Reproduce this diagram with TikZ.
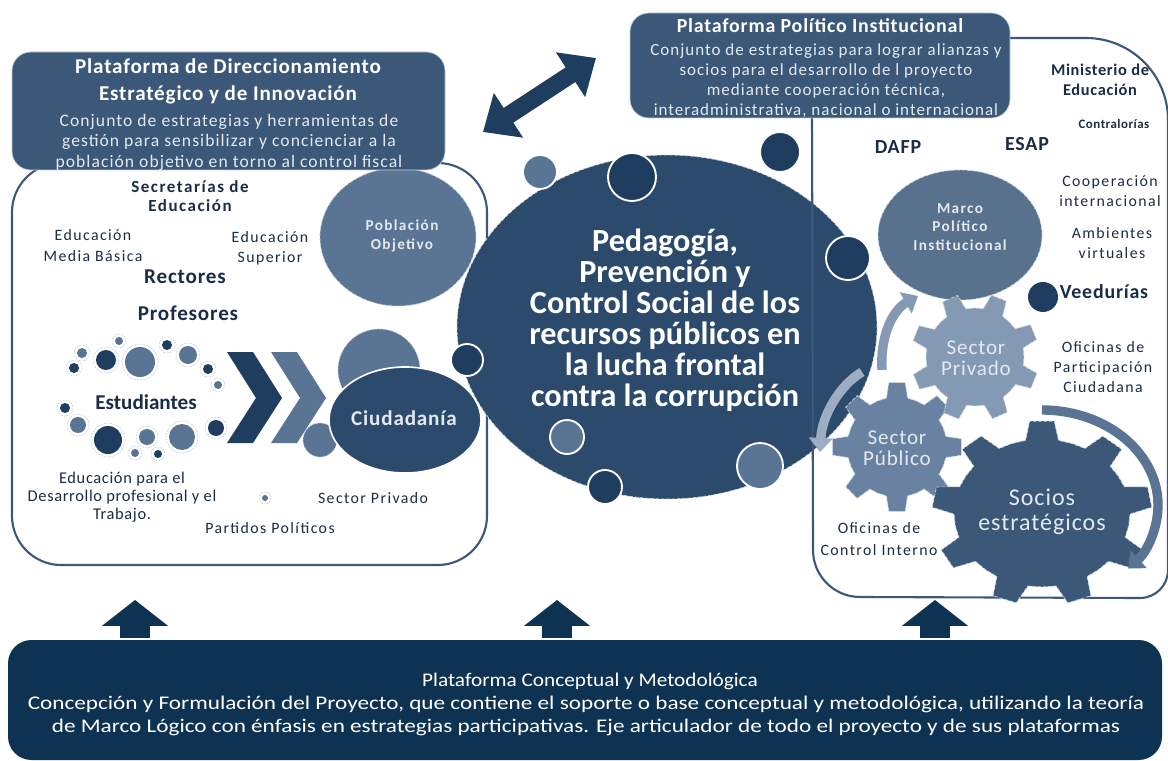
\documentclass[tikz,border=0pt]{standalone}
\usepackage{fontspec}
\setmainfont{Carlito}
\newfontfamily\lsa[LetterSpace=4]{Carlito}
\newfontfamily\lsc[LetterSpace=6]{Carlito}
\newfontfamily\lsb[LetterSpace=9]{Carlito}
\usetikzlibrary{arrows.meta,shapes.geometric}
\definecolor{boxblue}{HTML}{3B5878}
\definecolor{centralblue}{HTML}{2C4A6B}
\definecolor{darknavy}{HTML}{1F3D5E}
\definecolor{midblue}{HTML}{5A7594}
\definecolor{lightblue}{HTML}{8499B4}
\definecolor{gearmid}{HTML}{6A82A1}
\definecolor{bottomnavy}{HTML}{0E3352}
\definecolor{textnavy}{HTML}{1B2D45}
\definecolor{haloline}{HTML}{C5CDD8}
\definecolor{softwhite}{HTML}{E4E9F0}
\newcommand{\fs}[2]{\fontsize{#1}{#2}\selectfont}
\newcommand{\drawgear}[6]{%
  \begin{scope}[shift={#1}]
  \pgfmathsetmacro{\gearstep}{360/#2}
  \path[#6] ({#5-0.5*\gearstep}:#3)
    \foreach \k in {1,...,#2}{
      -- ({#5+(\k-1)*\gearstep-0.27*\gearstep}:#3)
      -- ({#5+(\k-1)*\gearstep-0.16*\gearstep}:#4)
      -- ({#5+(\k-1)*\gearstep+0.16*\gearstep}:#4)
      -- ({#5+(\k-1)*\gearstep+0.27*\gearstep}:#3)
      -- ({#5+(\k-1)*\gearstep+0.5*\gearstep}:#3)
    } -- cycle;
  \end{scope}}
\tikzset{
  panelline/.style={draw=boxblue, line width=1.8pt},
  platbox/.style={fill=boxblue, draw=white!70!boxblue, line width=0.6pt, rounded corners=16pt, inner sep=0pt},
  dtext/.style={text=textnavy, align=center, inner sep=0pt},
  wtext/.style={text=white, align=center, inner sep=0pt},
  stext/.style={text=softwhite, align=center, inner sep=0pt},
  ringdark/.style={fill=darknavy, draw=white, line width=1.6pt},
  ringmid/.style={fill=midblue, draw=white, line width=1.6pt},
  dotdark/.style={fill=darknavy},
  dotmid/.style={fill=midblue},
  halo/.style={draw=haloline, line width=0.5pt, dash pattern=on 1.5pt off 1pt},
  dashedge/.style={draw=white!75!boxblue, line width=0.6pt, dash pattern=on 3pt off 1.5pt},
  curvearrow/.style={line width=8pt, -{Triangle[length=12pt,width=20pt]}},
  bigdouble/.style={draw=darknavy, line width=15pt, {Triangle[length=26pt,width=44pt]}-{Triangle[length=26pt,width=44pt]}},
  uparrow/.style={draw=bottomnavy, line width=26pt, -{Triangle[length=22pt,width=55pt]}},
}
\begin{document}
\begin{tikzpicture}[x=0.03cm,y=-0.03cm]
\useasboundingbox (0,0) rectangle (1168,761);
\fill[white] (0,0) rectangle (1168,761);

% left panel
\draw[panelline, rounded corners=42pt] (12,163) rectangle (487,565);

% Poblacion objetivo
\node (pob) [ellipse, fill=midblue, draw=haloline, dash pattern=on 3pt off 1.5pt, line width=0.6pt, minimum width=156*0.03cm, minimum height=138*0.03cm, inner sep=0pt] at (398,237) {};

% central ellipse
\node (central) [ellipse, fill=centralblue, dashedge, minimum width=420*0.03cm, minimum height=344*0.03cm, inner sep=0pt] at (667,327) {};
\fill[ringmid] (540,172) circle (17);
\fill[ringdark] (632,177) circle (24);
\fill[ringdark] (780,152) circle (20);
\fill[ringdark] (467,360) circle (16);
\fill[ringmid] (567,437) circle (17);
\fill[ringdark] (605,487) circle (17);
\fill[ringmid] (760,466) circle (23);
\fill[ringdark] (848,258) circle (22);

% Ciudadania group
\fill[midblue, halo] (379,370) circle (41);
\fill[midblue, halo] (320,440) circle (17);
\node (ciud) [ellipse, fill=centralblue, draw=white, line width=1.4pt, minimum width=152*0.03cm, minimum height=106*0.03cm, inner sep=0pt] at (405,420) {};

% chevrons
\fill[darknavy] (227,352) -- (253,352) -- (282,398) -- (253,443) -- (227,443) -- (256,398) -- cycle;
\fill[midblue] (271,352) -- (297,352) -- (326,398) -- (297,443) -- (271,443) -- (300,398) -- cycle;

% student dots
\foreach \px/\py/\r/\s in {119/341/4/dotmid, 82/353/5/dotmid, 106/360/10/dotdark, 140/362/15/dotmid,
  167/345/5/dotdark, 188/355/9/dotmid, 208/369/5/dotdark, 218/385/4/dotmid, 74/368/5/dotdark,
  65/408/5/dotdark, 78/425/8/dotmid, 108/440/14/dotdark, 147/437/8/dotmid, 182/437/13/dotmid,
  216/428/8/dotdark, 135/453/4/dotmid, 158/454/4/dotdark, 265/498/3/dotmid}{
  \draw[halo] (\px,\py) circle (\r+3);
  \fill[\s] (\px,\py) circle (\r);
}

% top-left box
\node (boxL) [platbox, minimum width=433*0.03cm, minimum height=118*0.03cm] at (228.5,111) {};

% right panel
\draw[panelline] (1005,38) -- (1086,38) arc[start angle=-90, end angle=0, radius=82] -- (1168,570)
  arc[start angle=0, end angle=90, radius=28] -- (860,597) arc[start angle=90, end angle=180, radius=47] -- (812,110);

% top-right box
\node (boxR) [platbox, minimum width=380*0.03cm, minimum height=105*0.03cm] at (820,65.5) {};

% Marco politico
\node (marco) [ellipse, fill=boxblue!85!white, dashedge, minimum width=164*0.03cm, minimum height=130*0.03cm, inner sep=0pt] at (960,235) {};

% curved arrows
\coordinate (ca1s) at (882,370);
\coordinate (ca1e) at (918,296);
\draw[curvearrow, draw=lightblue] (ca1s) .. controls (880,335) and (893,310) .. (ca1e);
\coordinate (ca2s) at (862,372);
\coordinate (ca2e) at (820,452);
\draw[curvearrow, draw=lightblue!80!white] (ca2s) .. controls (840,385) and (822,415) .. (ca2e);

% gears
\drawgear{(897,447)}{8}{50}{65}{-90}{fill=gearmid, dashedge}
\drawgear{(975,357)}{8}{49}{64}{-68}{fill=lightblue, dashedge}
\drawgear{(1042,513)}{9}{88}{110}{-90}{fill=boxblue, dashedge, yscale=0.84}

% big arc around socios
\coordinate (arcstart) at (1042,410);
\draw[curvearrow, draw=midblue] (arcstart) arc[start angle=-90, end angle=42, x radius=116, y radius=95];

% double arrow
\coordinate (dbA) at (483,132);
\coordinate (dbB) at (596,58);
\draw[bigdouble] (dbA) -- (dbB);

% bottom box
\node (bottom) [fill=bottomnavy, rounded corners=20pt, minimum width=1154*0.03cm, minimum height=120*0.03cm, inner sep=0pt] at (585,700) {};
\coordinate (up1) at (135,600);
\coordinate (up2) at (557,600);
\coordinate (up3) at (935,600);
\foreach \c in {up1,up2,up3}{ \draw[uparrow] (bottom.north -| \c) ++(0,-2) -- (\c); }

% ---- texts ----
\node (tlTitle) [wtext, font=\bfseries\lsa\fs{18}{23}] at (228,81) {Plataforma de Direccionamiento\\Estratégico y de Innovación};
\node (tlBody) [stext, font=\lsc\fs{15}{17.5}] at (229,142) {Conjunto de estrategias y herramientas de\\gestión para sensibilizar y concienciar a la\\población objetivo en torno al control fiscal};
\node (trTitle) [wtext, font=\bfseries\lsa\fs{17}{20}] at (820,26) {Plataforma Político Institucional};
\node (trBody) [stext, font=\lsc\fs{14.5}{17}] at (826,81) {Conjunto de estrategias para lograr alianzas y\\socios para el desarrollo de l proyecto\\mediante cooperación técnica,\\interadministrativa, nacional o internacional};

\node (ctext) [wtext, font=\bfseries\fs{27.5}{26.5}] at (665,320) {Pedagogía,\\Prevención y\\Control Social de los\\recursos públicos en\\la lucha frontal\\contra la corrupción};

\node (pobT) [stext, font=\bfseries\lsb\fs{13}{16}] at (402,236) {Población\\Objetivo};
\node (ciudT) [stext, font=\bfseries\lsa\fs{18}{20}] at (404,418) {Ciudadanía};
\node (marcoT) [stext, font=\bfseries\lsb\fs{13}{15.8}] at (960,227) {Marco\\Político\\Institucional};
\node (privT) [stext, font=\lsa\fs{18}{18}] at (976,358) {Sector\\Privado};
\node (pubT) [stext, font=\lsa\fs{18}{18}] at (897,448) {Sector\\Público};
\node (sociosT) [stext, font=\lsa\fs{20.5}{21}] at (1042,512) {Socios\\estratégicos};

\node (secT) [dtext, font=\bfseries\lsb\fs{14.5}{16.5}] at (190,196) {Secretarías de\\Educación};
\node (embT) [dtext, font=\lsb\fs{13.5}{18}] at (93,246) {Educación\\Media Básica};
\node (esupT) [dtext, font=\lsb\fs{13.5}{17}] at (270,248) {Educación\\Superior};
\node (rectT) [dtext, font=\bfseries\lsa\fs{18}{18}] at (185,277) {Rectores};
\node (profT) [dtext, font=\bfseries\lsa\fs{18}{18}] at (188,313) {Profesores};
\node (estT) [dtext, font=\bfseries\fs{18}{18}] at (146,402) {Estudiantes};
\node (edpT) [dtext, font=\lsa\fs{14}{15.4}] at (122,497) {Educación para el\\Desarrollo profesional y el\\Trabajo.};
\node (sprT) [dtext, font=\lsb\fs{13.5}{16}] at (373,498) {Sector Privado};
\node (ppT) [dtext, font=\lsb\fs{13.5}{16}] at (270,528) {Partidos Políticos};

\node (minT) [dtext, font=\bfseries\lsa\fs{14}{17}] at (1100,80) {Ministerio de\\Educación};
\node (contT) [dtext, font=\bfseries\lsa\fs{11}{13}] at (1114,124) {Contralorías};
\node (dafpT) [dtext, font=\bfseries\lsa\fs{17}{17}] at (898,147) {DAFP};
\node (esapT) [dtext, font=\bfseries\lsa\fs{17}{17}] at (1027,144) {ESAP};
\node (coopT) [dtext, font=\lsb\fs{13.5}{16.5}] at (1110,191) {Cooperación\\internacional};
\node (ambT) [dtext, font=\lsb\fs{13.5}{16.5}] at (1112,243) {Ambientes\\virtuales};
\fill[ringdark, draw=none] (1043,297) circle (15);
\node (veedT) [dtext, font=\bfseries\lsa\fs{17}{17}] at (1104,292) {Veedurías};
\node (ofpT) [dtext, font=\lsb\fs{13.5}{17}] at (1103,367) {Oficinas de\\Participación\\Ciudadana};
\node (ofcT) [dtext, font=\lsb\fs{13.5}{18.8}] at (879,539) {Oficinas de\\Control Interno};

\node (botTitle) [wtext, font=\fs{16.5}{19}, xscale=1.1, transform shape] at (590,681) {Plataforma Conceptual y Metodológica};
\node (botBody) [wtext, font=\fs{16.5}{19}, xscale=1.2, transform shape] at (586,716) {Concepción y Formulación del Proyecto, que contiene el soporte o base conceptual y metodológica, utilizando la teoría\\de Marco Lógico con énfasis en estrategias participativas. Eje articulador de todo el proyecto y de sus plataformas};
\end{tikzpicture}
\end{document}
